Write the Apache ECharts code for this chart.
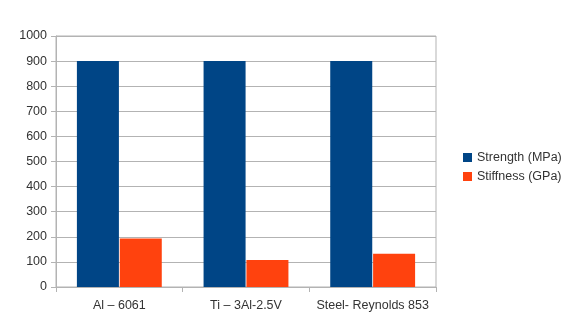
<!DOCTYPE html>
<html>
<head>
<meta charset="utf-8">
<script src="https://cdn.jsdelivr.net/npm/echarts@6/dist/echarts.min.js"></script>
<style>
  html, body { margin: 0; padding: 0; background: #fff; }
  #chart { width: 569px; height: 330px; }
</style>
</head>
<body>
<div id="chart"></div>
<script>
// Bicycle frame materials: tensile strength vs. stiffness
const categories = ['Al – 6061', 'Ti – 3Al-2.5V', 'Steel- Reynolds 853'];
const strength = [900, 900, 900];
const stiffness = [193, 108, 132];
const yTicks = { min: 0, max: 1000, interval: 100 };

const gridColor = '#b3b3b3';
const textStyle = { fontFamily: 'Liberation Sans', fontSize: 12.5, color: '#333' };

const chart = echarts.init(document.getElementById('chart'), null, { renderer: 'canvas' });
chart.setOption({
  animation: false,
  backgroundColor: '#ffffff',
  grid: {
    left: 56, right: 133, top: 36, bottom: 43,
    show: true, borderColor: gridColor, borderWidth: 1, backgroundColor: 'transparent'
  },
  legend: {
    orient: 'vertical',
    left: 458, top: 146,
    itemWidth: 9, itemHeight: 9, itemGap: 6,
    icon: 'rect',
    textStyle: textStyle,
    data: ['Strength (MPa)', 'Stiffness (GPa)']
  },
  xAxis: {
    type: 'category',
    data: categories,
    axisLine: { lineStyle: { color: gridColor } },
    axisTick: { show: true, length: 5, alignWithLabel: false, lineStyle: { color: gridColor } },
    axisLabel: Object.assign({ margin: 12, interval: 0 }, textStyle)
  },
  yAxis: {
    type: 'value',
    min: yTicks.min, max: yTicks.max, interval: yTicks.interval,
    axisLine: { show: true, lineStyle: { color: gridColor } },
    axisTick: { show: true, length: 5, lineStyle: { color: gridColor } },
    splitLine: { lineStyle: { color: gridColor } },
    axisLabel: Object.assign({ margin: 9, formatter: v => String(v) }, textStyle)
  },
  series: [
    {
      name: 'Strength (MPa)', type: 'bar', data: strength,
      barGap: '2%', barCategoryGap: '33%',
      itemStyle: { color: '#004586' }
    },
    {
      name: 'Stiffness (GPa)', type: 'bar', data: stiffness,
      barGap: '2%', barCategoryGap: '33%',
      itemStyle: { color: '#ff420e' }
    }
  ]
});
</script>
</body>
</html>
